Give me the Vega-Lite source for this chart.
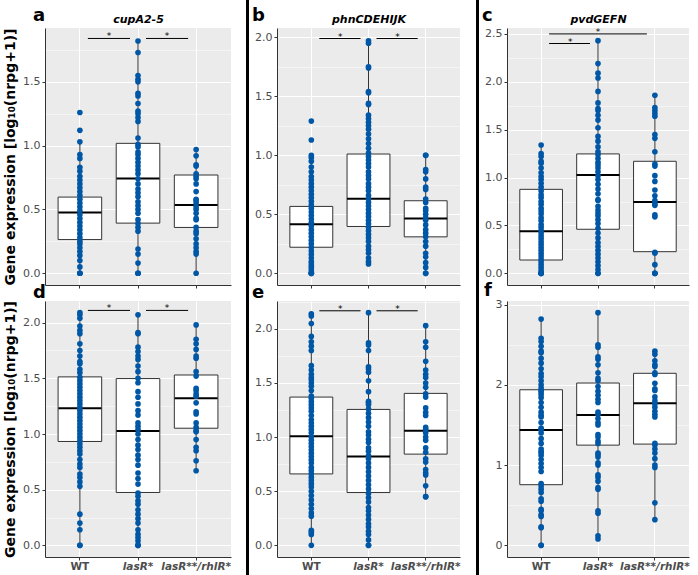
{
"$schema":"https://vega.github.io/schema/vega-lite/v6.json",
"padding":{"left":3,"top":0,"right":0,"bottom":0},
"autosize":{"type":"pad"},
"spacing":13,
"config":{"font":"DejaVu Sans","view":{"fill":"#EBEBEB","stroke":null},"axis":{"labelFont":"DejaVu Sans","labelFontSize":11,"labelColor":"#4D4D4D","tickColor":"#333333","tickSize":3,"domainColor":"#333333","domainWidth":1,"labelPadding":2,"titleFont":"DejaVu Sans","labelOverlap":false}},
"datasets":{
"box":[
{"p":"a","g":"W","lo":0,"q1":0.264,"md":0.476,"q3":0.597,"hi":1.03},
{"p":"a","g":"L","lo":0,"q1":0.393,"md":0.743,"q3":1.018,"hi":1.82},
{"p":"a","g":"R","lo":0,"q1":0.359,"md":0.534,"q3":0.77,"hi":0.97},
{"p":"b","g":"W","lo":0,"q1":0.221,"md":0.416,"q3":0.567,"hi":1.0},
{"p":"b","g":"L","lo":0.08,"q1":0.397,"md":0.632,"q3":1.011,"hi":1.97},
{"p":"b","g":"R","lo":0,"q1":0.309,"md":0.465,"q3":0.615,"hi":1.0},
{"p":"c","g":"W","lo":0,"q1":0.139,"md":0.439,"q3":0.877,"hi":1.34},
{"p":"c","g":"L","lo":0,"q1":0.46,"md":1.027,"q3":1.247,"hi":2.43},
{"p":"c","g":"R","lo":0,"q1":0.226,"md":0.745,"q3":1.17,"hi":1.86},
{"p":"d","g":"W","lo":0,"q1":0.933,"md":1.232,"q3":1.513,"hi":2.08},
{"p":"d","g":"L","lo":0,"q1":0.475,"md":1.028,"q3":1.498,"hi":2.06},
{"p":"d","g":"R","lo":0.66,"q1":1.052,"md":1.321,"q3":1.53,"hi":1.97},
{"p":"e","g":"W","lo":0,"q1":0.66,"md":1.009,"q3":1.37,"hi":2.14},
{"p":"e","g":"L","lo":0,"q1":0.488,"md":0.821,"q3":1.256,"hi":2.15},
{"p":"e","g":"R","lo":0.45,"q1":0.843,"md":1.059,"q3":1.404,"hi":2.03},
{"p":"f","g":"W","lo":0,"q1":0.756,"md":1.438,"q3":1.939,"hi":2.82},
{"p":"f","g":"L","lo":0.08,"q1":1.249,"md":1.626,"q3":2.023,"hi":2.9},
{"p":"f","g":"R","lo":0.32,"q1":1.262,"md":1.772,"q3":2.144,"hi":2.41}
],
"sig":[
{"p":"a","from":"W","to":"L","y":1.84},{"p":"a","from":"L","to":"R","y":1.84},
{"p":"b","from":"W","to":"L","y":1.99},{"p":"b","from":"L","to":"R","y":1.99},
{"p":"c","from":"W","to":"L","y":2.4},{"p":"c","from":"W","to":"R","y":2.5},
{"p":"d","from":"W","to":"L","y":2.11},{"p":"d","from":"L","to":"R","y":2.11},
{"p":"e","from":"W","to":"L","y":2.167},{"p":"e","from":"L","to":"R","y":2.167}
],
"pts":[
{"p":"a","g":"W","v":0},{"p":"a","g":"W","v":0},{"p":"a","g":"W","v":0},{"p":"a","g":"W","v":0.05},{"p":"a","g":"W","v":0.1},{"p":"a","g":"W","v":0.14},{"p":"a","g":"W","v":0.17},{"p":"a","g":"W","v":0.2},{"p":"a","g":"W","v":0.23},{"p":"a","g":"W","v":0.25},{"p":"a","g":"W","v":0.28},{"p":"a","g":"W","v":0.31},{"p":"a","g":"W","v":0.34},{"p":"a","g":"W","v":0.37},{"p":"a","g":"W","v":0.4},{"p":"a","g":"W","v":0.43},{"p":"a","g":"W","v":0.46},{"p":"a","g":"W","v":0.49},{"p":"a","g":"W","v":0.52},{"p":"a","g":"W","v":0.55},{"p":"a","g":"W","v":0.58},{"p":"a","g":"W","v":0.61},{"p":"a","g":"W","v":0.64},{"p":"a","g":"W","v":0.67},{"p":"a","g":"W","v":0.7},{"p":"a","g":"W","v":0.73},{"p":"a","g":"W","v":0.76},{"p":"a","g":"W","v":0.8},{"p":"a","g":"W","v":0.83},{"p":"a","g":"W","v":0.9},{"p":"a","g":"W","v":0.93},{"p":"a","g":"W","v":1.03},{"p":"a","g":"W","v":1.12},{"p":"a","g":"W","v":1.26},
{"p":"a","g":"L","v":0},{"p":"a","g":"L","v":0},{"p":"a","g":"L","v":0},{"p":"a","g":"L","v":0.08},{"p":"a","g":"L","v":0.15},{"p":"a","g":"L","v":0.19},{"p":"a","g":"L","v":0.33},{"p":"a","g":"L","v":0.36},{"p":"a","g":"L","v":0.39},{"p":"a","g":"L","v":0.42},{"p":"a","g":"L","v":0.47},{"p":"a","g":"L","v":0.5},{"p":"a","g":"L","v":0.53},{"p":"a","g":"L","v":0.56},{"p":"a","g":"L","v":0.6},{"p":"a","g":"L","v":0.63},{"p":"a","g":"L","v":0.66},{"p":"a","g":"L","v":0.7},{"p":"a","g":"L","v":0.74},{"p":"a","g":"L","v":0.78},{"p":"a","g":"L","v":0.81},{"p":"a","g":"L","v":0.84},{"p":"a","g":"L","v":0.87},{"p":"a","g":"L","v":0.9},{"p":"a","g":"L","v":0.93},{"p":"a","g":"L","v":0.95},{"p":"a","g":"L","v":0.99},{"p":"a","g":"L","v":1.01},{"p":"a","g":"L","v":1.06},{"p":"a","g":"L","v":1.19},{"p":"a","g":"L","v":1.22},{"p":"a","g":"L","v":1.25},{"p":"a","g":"L","v":1.27},{"p":"a","g":"L","v":1.33},{"p":"a","g":"L","v":1.39},{"p":"a","g":"L","v":1.41},{"p":"a","g":"L","v":1.5},{"p":"a","g":"L","v":1.52},{"p":"a","g":"L","v":1.55},{"p":"a","g":"L","v":1.73},{"p":"a","g":"L","v":1.82},
{"p":"a","g":"R","v":0},{"p":"a","g":"R","v":0.15},{"p":"a","g":"R","v":0.17},{"p":"a","g":"R","v":0.2},{"p":"a","g":"R","v":0.23},{"p":"a","g":"R","v":0.27},{"p":"a","g":"R","v":0.31},{"p":"a","g":"R","v":0.33},{"p":"a","g":"R","v":0.36},{"p":"a","g":"R","v":0.42},{"p":"a","g":"R","v":0.43},{"p":"a","g":"R","v":0.47},{"p":"a","g":"R","v":0.5},{"p":"a","g":"R","v":0.52},{"p":"a","g":"R","v":0.55},{"p":"a","g":"R","v":0.57},{"p":"a","g":"R","v":0.58},{"p":"a","g":"R","v":0.64},{"p":"a","g":"R","v":0.7},{"p":"a","g":"R","v":0.74},{"p":"a","g":"R","v":0.76},{"p":"a","g":"R","v":0.78},{"p":"a","g":"R","v":0.84},{"p":"a","g":"R","v":0.85},{"p":"a","g":"R","v":0.92},{"p":"a","g":"R","v":0.97},
{"p":"b","g":"W","v":0},{"p":"b","g":"W","v":0},{"p":"b","g":"W","v":0},{"p":"b","g":"W","v":0.02},{"p":"b","g":"W","v":0.04},{"p":"b","g":"W","v":0.06},{"p":"b","g":"W","v":0.08},{"p":"b","g":"W","v":0.1},{"p":"b","g":"W","v":0.13},{"p":"b","g":"W","v":0.16},{"p":"b","g":"W","v":0.19},{"p":"b","g":"W","v":0.22},{"p":"b","g":"W","v":0.25},{"p":"b","g":"W","v":0.28},{"p":"b","g":"W","v":0.31},{"p":"b","g":"W","v":0.34},{"p":"b","g":"W","v":0.37},{"p":"b","g":"W","v":0.4},{"p":"b","g":"W","v":0.43},{"p":"b","g":"W","v":0.46},{"p":"b","g":"W","v":0.49},{"p":"b","g":"W","v":0.52},{"p":"b","g":"W","v":0.55},{"p":"b","g":"W","v":0.58},{"p":"b","g":"W","v":0.61},{"p":"b","g":"W","v":0.64},{"p":"b","g":"W","v":0.67},{"p":"b","g":"W","v":0.7},{"p":"b","g":"W","v":0.73},{"p":"b","g":"W","v":0.76},{"p":"b","g":"W","v":0.79},{"p":"b","g":"W","v":0.82},{"p":"b","g":"W","v":0.86},{"p":"b","g":"W","v":0.9},{"p":"b","g":"W","v":0.95},{"p":"b","g":"W","v":0.98},{"p":"b","g":"W","v":1.0},{"p":"b","g":"W","v":1.13},{"p":"b","g":"W","v":1.29},
{"p":"b","g":"L","v":0.08},{"p":"b","g":"L","v":0.1},{"p":"b","g":"L","v":0.13},{"p":"b","g":"L","v":0.17},{"p":"b","g":"L","v":0.2},{"p":"b","g":"L","v":0.23},{"p":"b","g":"L","v":0.27},{"p":"b","g":"L","v":0.3},{"p":"b","g":"L","v":0.33},{"p":"b","g":"L","v":0.36},{"p":"b","g":"L","v":0.39},{"p":"b","g":"L","v":0.42},{"p":"b","g":"L","v":0.45},{"p":"b","g":"L","v":0.48},{"p":"b","g":"L","v":0.51},{"p":"b","g":"L","v":0.54},{"p":"b","g":"L","v":0.57},{"p":"b","g":"L","v":0.6},{"p":"b","g":"L","v":0.63},{"p":"b","g":"L","v":0.66},{"p":"b","g":"L","v":0.7},{"p":"b","g":"L","v":0.73},{"p":"b","g":"L","v":0.76},{"p":"b","g":"L","v":0.8},{"p":"b","g":"L","v":0.83},{"p":"b","g":"L","v":0.86},{"p":"b","g":"L","v":0.9},{"p":"b","g":"L","v":0.93},{"p":"b","g":"L","v":0.96},{"p":"b","g":"L","v":0.99},{"p":"b","g":"L","v":1.02},{"p":"b","g":"L","v":1.06},{"p":"b","g":"L","v":1.1},{"p":"b","g":"L","v":1.14},{"p":"b","g":"L","v":1.18},{"p":"b","g":"L","v":1.22},{"p":"b","g":"L","v":1.25},{"p":"b","g":"L","v":1.28},{"p":"b","g":"L","v":1.31},{"p":"b","g":"L","v":1.34},{"p":"b","g":"L","v":1.43},{"p":"b","g":"L","v":1.44},{"p":"b","g":"L","v":1.53},{"p":"b","g":"L","v":1.54},{"p":"b","g":"L","v":1.74},{"p":"b","g":"L","v":1.75},{"p":"b","g":"L","v":1.95},{"p":"b","g":"L","v":1.97},
{"p":"b","g":"R","v":0},{"p":"b","g":"R","v":0},{"p":"b","g":"R","v":0.05},{"p":"b","g":"R","v":0.09},{"p":"b","g":"R","v":0.14},{"p":"b","g":"R","v":0.17},{"p":"b","g":"R","v":0.23},{"p":"b","g":"R","v":0.27},{"p":"b","g":"R","v":0.31},{"p":"b","g":"R","v":0.34},{"p":"b","g":"R","v":0.37},{"p":"b","g":"R","v":0.41},{"p":"b","g":"R","v":0.45},{"p":"b","g":"R","v":0.47},{"p":"b","g":"R","v":0.5},{"p":"b","g":"R","v":0.53},{"p":"b","g":"R","v":0.55},{"p":"b","g":"R","v":0.6},{"p":"b","g":"R","v":0.63},{"p":"b","g":"R","v":0.71},{"p":"b","g":"R","v":0.73},{"p":"b","g":"R","v":0.8},{"p":"b","g":"R","v":0.86},{"p":"b","g":"R","v":0.88},{"p":"b","g":"R","v":1.0},{"p":"b","g":"R","v":1.0},
{"p":"c","g":"W","v":0},{"p":"c","g":"W","v":0},{"p":"c","g":"W","v":0},{"p":"c","g":"W","v":0},{"p":"c","g":"W","v":0.03},{"p":"c","g":"W","v":0.06},{"p":"c","g":"W","v":0.09},{"p":"c","g":"W","v":0.12},{"p":"c","g":"W","v":0.15},{"p":"c","g":"W","v":0.18},{"p":"c","g":"W","v":0.21},{"p":"c","g":"W","v":0.24},{"p":"c","g":"W","v":0.27},{"p":"c","g":"W","v":0.3},{"p":"c","g":"W","v":0.33},{"p":"c","g":"W","v":0.36},{"p":"c","g":"W","v":0.39},{"p":"c","g":"W","v":0.42},{"p":"c","g":"W","v":0.45},{"p":"c","g":"W","v":0.48},{"p":"c","g":"W","v":0.51},{"p":"c","g":"W","v":0.55},{"p":"c","g":"W","v":0.58},{"p":"c","g":"W","v":0.62},{"p":"c","g":"W","v":0.65},{"p":"c","g":"W","v":0.68},{"p":"c","g":"W","v":0.72},{"p":"c","g":"W","v":0.75},{"p":"c","g":"W","v":0.79},{"p":"c","g":"W","v":0.82},{"p":"c","g":"W","v":0.86},{"p":"c","g":"W","v":0.9},{"p":"c","g":"W","v":0.94},{"p":"c","g":"W","v":0.98},{"p":"c","g":"W","v":1.01},{"p":"c","g":"W","v":1.05},{"p":"c","g":"W","v":1.1},{"p":"c","g":"W","v":1.15},{"p":"c","g":"W","v":1.17},{"p":"c","g":"W","v":1.22},{"p":"c","g":"W","v":1.25},{"p":"c","g":"W","v":1.34},
{"p":"c","g":"L","v":0},{"p":"c","g":"L","v":0},{"p":"c","g":"L","v":0.04},{"p":"c","g":"L","v":0.08},{"p":"c","g":"L","v":0.12},{"p":"c","g":"L","v":0.16},{"p":"c","g":"L","v":0.2},{"p":"c","g":"L","v":0.24},{"p":"c","g":"L","v":0.28},{"p":"c","g":"L","v":0.32},{"p":"c","g":"L","v":0.37},{"p":"c","g":"L","v":0.42},{"p":"c","g":"L","v":0.47},{"p":"c","g":"L","v":0.52},{"p":"c","g":"L","v":0.56},{"p":"c","g":"L","v":0.6},{"p":"c","g":"L","v":0.63},{"p":"c","g":"L","v":0.66},{"p":"c","g":"L","v":0.7},{"p":"c","g":"L","v":0.76},{"p":"c","g":"L","v":0.77},{"p":"c","g":"L","v":0.83},{"p":"c","g":"L","v":0.88},{"p":"c","g":"L","v":0.93},{"p":"c","g":"L","v":0.98},{"p":"c","g":"L","v":1.02},{"p":"c","g":"L","v":1.06},{"p":"c","g":"L","v":1.1},{"p":"c","g":"L","v":1.13},{"p":"c","g":"L","v":1.16},{"p":"c","g":"L","v":1.2},{"p":"c","g":"L","v":1.24},{"p":"c","g":"L","v":1.27},{"p":"c","g":"L","v":1.32},{"p":"c","g":"L","v":1.38},{"p":"c","g":"L","v":1.43},{"p":"c","g":"L","v":1.52},{"p":"c","g":"L","v":1.6},{"p":"c","g":"L","v":1.65},{"p":"c","g":"L","v":1.7},{"p":"c","g":"L","v":1.72},{"p":"c","g":"L","v":1.78},{"p":"c","g":"L","v":1.9},{"p":"c","g":"L","v":2.04},{"p":"c","g":"L","v":2.09},{"p":"c","g":"L","v":2.19},{"p":"c","g":"L","v":2.43},
{"p":"c","g":"R","v":0},{"p":"c","g":"R","v":0},{"p":"c","g":"R","v":0},{"p":"c","g":"R","v":0.09},{"p":"c","g":"R","v":0.21},{"p":"c","g":"R","v":0.22},{"p":"c","g":"R","v":0.59},{"p":"c","g":"R","v":0.61},{"p":"c","g":"R","v":0.71},{"p":"c","g":"R","v":0.73},{"p":"c","g":"R","v":0.76},{"p":"c","g":"R","v":0.81},{"p":"c","g":"R","v":0.87},{"p":"c","g":"R","v":0.96},{"p":"c","g":"R","v":1.02},{"p":"c","g":"R","v":1.12},{"p":"c","g":"R","v":1.14},{"p":"c","g":"R","v":1.27},{"p":"c","g":"R","v":1.41},{"p":"c","g":"R","v":1.45},{"p":"c","g":"R","v":1.64},{"p":"c","g":"R","v":1.67},{"p":"c","g":"R","v":1.7},{"p":"c","g":"R","v":1.73},{"p":"c","g":"R","v":1.86},
{"p":"d","g":"W","v":0},{"p":"d","g":"W","v":0},{"p":"d","g":"W","v":0.14},{"p":"d","g":"W","v":0.2},{"p":"d","g":"W","v":0.28},{"p":"d","g":"W","v":0.53},{"p":"d","g":"W","v":0.57},{"p":"d","g":"W","v":0.61},{"p":"d","g":"W","v":0.64},{"p":"d","g":"W","v":0.7},{"p":"d","g":"W","v":0.73},{"p":"d","g":"W","v":0.77},{"p":"d","g":"W","v":0.82},{"p":"d","g":"W","v":0.85},{"p":"d","g":"W","v":0.88},{"p":"d","g":"W","v":0.91},{"p":"d","g":"W","v":0.94},{"p":"d","g":"W","v":0.97},{"p":"d","g":"W","v":1.0},{"p":"d","g":"W","v":1.03},{"p":"d","g":"W","v":1.06},{"p":"d","g":"W","v":1.09},{"p":"d","g":"W","v":1.12},{"p":"d","g":"W","v":1.15},{"p":"d","g":"W","v":1.18},{"p":"d","g":"W","v":1.21},{"p":"d","g":"W","v":1.24},{"p":"d","g":"W","v":1.27},{"p":"d","g":"W","v":1.3},{"p":"d","g":"W","v":1.33},{"p":"d","g":"W","v":1.36},{"p":"d","g":"W","v":1.39},{"p":"d","g":"W","v":1.42},{"p":"d","g":"W","v":1.45},{"p":"d","g":"W","v":1.48},{"p":"d","g":"W","v":1.51},{"p":"d","g":"W","v":1.55},{"p":"d","g":"W","v":1.58},{"p":"d","g":"W","v":1.63},{"p":"d","g":"W","v":1.65},{"p":"d","g":"W","v":1.7},{"p":"d","g":"W","v":1.75},{"p":"d","g":"W","v":1.81},{"p":"d","g":"W","v":1.9},{"p":"d","g":"W","v":1.93},{"p":"d","g":"W","v":1.97},{"p":"d","g":"W","v":2.04},{"p":"d","g":"W","v":2.07},{"p":"d","g":"W","v":2.09},
{"p":"d","g":"L","v":0},{"p":"d","g":"L","v":0},{"p":"d","g":"L","v":0},{"p":"d","g":"L","v":0.04},{"p":"d","g":"L","v":0.07},{"p":"d","g":"L","v":0.1},{"p":"d","g":"L","v":0.14},{"p":"d","g":"L","v":0.2},{"p":"d","g":"L","v":0.24},{"p":"d","g":"L","v":0.28},{"p":"d","g":"L","v":0.32},{"p":"d","g":"L","v":0.37},{"p":"d","g":"L","v":0.4},{"p":"d","g":"L","v":0.44},{"p":"d","g":"L","v":0.47},{"p":"d","g":"L","v":0.55},{"p":"d","g":"L","v":0.6},{"p":"d","g":"L","v":0.65},{"p":"d","g":"L","v":0.72},{"p":"d","g":"L","v":0.77},{"p":"d","g":"L","v":0.81},{"p":"d","g":"L","v":0.86},{"p":"d","g":"L","v":0.9},{"p":"d","g":"L","v":0.95},{"p":"d","g":"L","v":1.0},{"p":"d","g":"L","v":1.04},{"p":"d","g":"L","v":1.07},{"p":"d","g":"L","v":1.1},{"p":"d","g":"L","v":1.17},{"p":"d","g":"L","v":1.21},{"p":"d","g":"L","v":1.27},{"p":"d","g":"L","v":1.33},{"p":"d","g":"L","v":1.38},{"p":"d","g":"L","v":1.46},{"p":"d","g":"L","v":1.5},{"p":"d","g":"L","v":1.56},{"p":"d","g":"L","v":1.61},{"p":"d","g":"L","v":1.67},{"p":"d","g":"L","v":1.7},{"p":"d","g":"L","v":1.74},{"p":"d","g":"L","v":1.78},{"p":"d","g":"L","v":1.9},{"p":"d","g":"L","v":1.91},{"p":"d","g":"L","v":2.07},
{"p":"d","g":"R","v":0.67},{"p":"d","g":"R","v":0.76},{"p":"d","g":"R","v":0.85},{"p":"d","g":"R","v":0.88},{"p":"d","g":"R","v":0.95},{"p":"d","g":"R","v":1.02},{"p":"d","g":"R","v":1.03},{"p":"d","g":"R","v":1.06},{"p":"d","g":"R","v":1.1},{"p":"d","g":"R","v":1.18},{"p":"d","g":"R","v":1.2},{"p":"d","g":"R","v":1.28},{"p":"d","g":"R","v":1.34},{"p":"d","g":"R","v":1.36},{"p":"d","g":"R","v":1.39},{"p":"d","g":"R","v":1.41},{"p":"d","g":"R","v":1.52},{"p":"d","g":"R","v":1.56},{"p":"d","g":"R","v":1.68},{"p":"d","g":"R","v":1.7},{"p":"d","g":"R","v":1.76},{"p":"d","g":"R","v":1.81},{"p":"d","g":"R","v":1.85},{"p":"d","g":"R","v":1.98},
{"p":"e","g":"W","v":0},{"p":"e","g":"W","v":0.1},{"p":"e","g":"W","v":0.12},{"p":"e","g":"W","v":0.14},{"p":"e","g":"W","v":0.27},{"p":"e","g":"W","v":0.3},{"p":"e","g":"W","v":0.34},{"p":"e","g":"W","v":0.38},{"p":"e","g":"W","v":0.42},{"p":"e","g":"W","v":0.46},{"p":"e","g":"W","v":0.5},{"p":"e","g":"W","v":0.54},{"p":"e","g":"W","v":0.57},{"p":"e","g":"W","v":0.6},{"p":"e","g":"W","v":0.63},{"p":"e","g":"W","v":0.66},{"p":"e","g":"W","v":0.69},{"p":"e","g":"W","v":0.72},{"p":"e","g":"W","v":0.76},{"p":"e","g":"W","v":0.79},{"p":"e","g":"W","v":0.82},{"p":"e","g":"W","v":0.85},{"p":"e","g":"W","v":0.88},{"p":"e","g":"W","v":0.91},{"p":"e","g":"W","v":0.94},{"p":"e","g":"W","v":0.97},{"p":"e","g":"W","v":1.0},{"p":"e","g":"W","v":1.04},{"p":"e","g":"W","v":1.07},{"p":"e","g":"W","v":1.1},{"p":"e","g":"W","v":1.13},{"p":"e","g":"W","v":1.16},{"p":"e","g":"W","v":1.2},{"p":"e","g":"W","v":1.24},{"p":"e","g":"W","v":1.27},{"p":"e","g":"W","v":1.3},{"p":"e","g":"W","v":1.33},{"p":"e","g":"W","v":1.36},{"p":"e","g":"W","v":1.38},{"p":"e","g":"W","v":1.43},{"p":"e","g":"W","v":1.47},{"p":"e","g":"W","v":1.5},{"p":"e","g":"W","v":1.53},{"p":"e","g":"W","v":1.55},{"p":"e","g":"W","v":1.58},{"p":"e","g":"W","v":1.62},{"p":"e","g":"W","v":1.66},{"p":"e","g":"W","v":1.8},{"p":"e","g":"W","v":1.84},{"p":"e","g":"W","v":1.88},{"p":"e","g":"W","v":1.93},{"p":"e","g":"W","v":2.05},{"p":"e","g":"W","v":2.12},{"p":"e","g":"W","v":2.14},
{"p":"e","g":"L","v":0},{"p":"e","g":"L","v":0},{"p":"e","g":"L","v":0.05},{"p":"e","g":"L","v":0.1},{"p":"e","g":"L","v":0.13},{"p":"e","g":"L","v":0.17},{"p":"e","g":"L","v":0.2},{"p":"e","g":"L","v":0.24},{"p":"e","g":"L","v":0.28},{"p":"e","g":"L","v":0.32},{"p":"e","g":"L","v":0.35},{"p":"e","g":"L","v":0.4},{"p":"e","g":"L","v":0.44},{"p":"e","g":"L","v":0.48},{"p":"e","g":"L","v":0.52},{"p":"e","g":"L","v":0.56},{"p":"e","g":"L","v":0.6},{"p":"e","g":"L","v":0.64},{"p":"e","g":"L","v":0.68},{"p":"e","g":"L","v":0.72},{"p":"e","g":"L","v":0.76},{"p":"e","g":"L","v":0.8},{"p":"e","g":"L","v":0.83},{"p":"e","g":"L","v":0.87},{"p":"e","g":"L","v":0.9},{"p":"e","g":"L","v":0.95},{"p":"e","g":"L","v":0.98},{"p":"e","g":"L","v":1.02},{"p":"e","g":"L","v":1.05},{"p":"e","g":"L","v":1.1},{"p":"e","g":"L","v":1.14},{"p":"e","g":"L","v":1.18},{"p":"e","g":"L","v":1.22},{"p":"e","g":"L","v":1.26},{"p":"e","g":"L","v":1.3},{"p":"e","g":"L","v":1.32},{"p":"e","g":"L","v":1.33},{"p":"e","g":"L","v":1.42},{"p":"e","g":"L","v":1.52},{"p":"e","g":"L","v":1.6},{"p":"e","g":"L","v":1.63},{"p":"e","g":"L","v":1.65},{"p":"e","g":"L","v":1.8},{"p":"e","g":"L","v":1.85},{"p":"e","g":"L","v":1.87},{"p":"e","g":"L","v":2.15},
{"p":"e","g":"R","v":0.45},{"p":"e","g":"R","v":0.45},{"p":"e","g":"R","v":0.55},{"p":"e","g":"R","v":0.65},{"p":"e","g":"R","v":0.67},{"p":"e","g":"R","v":0.7},{"p":"e","g":"R","v":0.77},{"p":"e","g":"R","v":0.8},{"p":"e","g":"R","v":0.86},{"p":"e","g":"R","v":0.9},{"p":"e","g":"R","v":0.97},{"p":"e","g":"R","v":1.0},{"p":"e","g":"R","v":1.04},{"p":"e","g":"R","v":1.07},{"p":"e","g":"R","v":1.09},{"p":"e","g":"R","v":1.2},{"p":"e","g":"R","v":1.23},{"p":"e","g":"R","v":1.27},{"p":"e","g":"R","v":1.37},{"p":"e","g":"R","v":1.4},{"p":"e","g":"R","v":1.46},{"p":"e","g":"R","v":1.5},{"p":"e","g":"R","v":1.55},{"p":"e","g":"R","v":1.58},{"p":"e","g":"R","v":1.62},{"p":"e","g":"R","v":1.7},{"p":"e","g":"R","v":1.83},{"p":"e","g":"R","v":1.88},{"p":"e","g":"R","v":2.03},
{"p":"f","g":"W","v":0},{"p":"f","g":"W","v":0},{"p":"f","g":"W","v":0.22},{"p":"f","g":"W","v":0.23},{"p":"f","g":"W","v":0.36},{"p":"f","g":"W","v":0.38},{"p":"f","g":"W","v":0.43},{"p":"f","g":"W","v":0.45},{"p":"f","g":"W","v":0.55},{"p":"f","g":"W","v":0.58},{"p":"f","g":"W","v":0.66},{"p":"f","g":"W","v":0.7},{"p":"f","g":"W","v":0.74},{"p":"f","g":"W","v":0.77},{"p":"f","g":"W","v":0.92},{"p":"f","g":"W","v":0.97},{"p":"f","g":"W","v":1.02},{"p":"f","g":"W","v":1.07},{"p":"f","g":"W","v":1.12},{"p":"f","g":"W","v":1.15},{"p":"f","g":"W","v":1.17},{"p":"f","g":"W","v":1.2},{"p":"f","g":"W","v":1.27},{"p":"f","g":"W","v":1.33},{"p":"f","g":"W","v":1.4},{"p":"f","g":"W","v":1.44},{"p":"f","g":"W","v":1.46},{"p":"f","g":"W","v":1.53},{"p":"f","g":"W","v":1.6},{"p":"f","g":"W","v":1.62},{"p":"f","g":"W","v":1.66},{"p":"f","g":"W","v":1.72},{"p":"f","g":"W","v":1.78},{"p":"f","g":"W","v":1.84},{"p":"f","g":"W","v":1.88},{"p":"f","g":"W","v":1.91},{"p":"f","g":"W","v":1.93},{"p":"f","g":"W","v":1.96},{"p":"f","g":"W","v":2.0},{"p":"f","g":"W","v":2.05},{"p":"f","g":"W","v":2.1},{"p":"f","g":"W","v":2.14},{"p":"f","g":"W","v":2.2},{"p":"f","g":"W","v":2.27},{"p":"f","g":"W","v":2.33},{"p":"f","g":"W","v":2.4},{"p":"f","g":"W","v":2.42},{"p":"f","g":"W","v":2.48},{"p":"f","g":"W","v":2.54},{"p":"f","g":"W","v":2.58},{"p":"f","g":"W","v":2.82},
{"p":"f","g":"L","v":0.08},{"p":"f","g":"L","v":0.12},{"p":"f","g":"L","v":0.4},{"p":"f","g":"L","v":0.43},{"p":"f","g":"L","v":0.7},{"p":"f","g":"L","v":0.72},{"p":"f","g":"L","v":0.8},{"p":"f","g":"L","v":0.85},{"p":"f","g":"L","v":0.88},{"p":"f","g":"L","v":1.0},{"p":"f","g":"L","v":1.03},{"p":"f","g":"L","v":1.1},{"p":"f","g":"L","v":1.13},{"p":"f","g":"L","v":1.15},{"p":"f","g":"L","v":1.27},{"p":"f","g":"L","v":1.3},{"p":"f","g":"L","v":1.35},{"p":"f","g":"L","v":1.38},{"p":"f","g":"L","v":1.5},{"p":"f","g":"L","v":1.53},{"p":"f","g":"L","v":1.58},{"p":"f","g":"L","v":1.63},{"p":"f","g":"L","v":1.66},{"p":"f","g":"L","v":1.78},{"p":"f","g":"L","v":1.82},{"p":"f","g":"L","v":1.87},{"p":"f","g":"L","v":1.92},{"p":"f","g":"L","v":1.98},{"p":"f","g":"L","v":2.05},{"p":"f","g":"L","v":2.08},{"p":"f","g":"L","v":2.15},{"p":"f","g":"L","v":2.25},{"p":"f","g":"L","v":2.32},{"p":"f","g":"L","v":2.35},{"p":"f","g":"L","v":2.47},{"p":"f","g":"L","v":2.5},{"p":"f","g":"L","v":2.9},
{"p":"f","g":"R","v":0.32},{"p":"f","g":"R","v":0.53},{"p":"f","g":"R","v":0.97},{"p":"f","g":"R","v":1.0},{"p":"f","g":"R","v":1.08},{"p":"f","g":"R","v":1.15},{"p":"f","g":"R","v":1.2},{"p":"f","g":"R","v":1.25},{"p":"f","g":"R","v":1.27},{"p":"f","g":"R","v":1.6},{"p":"f","g":"R","v":1.63},{"p":"f","g":"R","v":1.67},{"p":"f","g":"R","v":1.72},{"p":"f","g":"R","v":1.76},{"p":"f","g":"R","v":1.8},{"p":"f","g":"R","v":1.85},{"p":"f","g":"R","v":1.93},{"p":"f","g":"R","v":1.95},{"p":"f","g":"R","v":2.02},{"p":"f","g":"R","v":2.13},{"p":"f","g":"R","v":2.15},{"p":"f","g":"R","v":2.23},{"p":"f","g":"R","v":2.25},{"p":"f","g":"R","v":2.3},{"p":"f","g":"R","v":2.38},{"p":"f","g":"R","v":2.42}
]},
"hconcat":[
{"vconcat":[
{"width":186,"height":12,"data":{"values":[{}]},"mark":{"type":"point","opacity":0},"encoding":{},"view":{"fill":"white","stroke":null}},
{"width":186,"height":257,
"title":{"text":"a","anchor":"start","frame":"group","dx":-12,"dy":26,"offset":0,"fontSize":18,"fontWeight":"bold","color":"#000","baseline":"alphabetic","font":"DejaVu Sans"},
"resolve":{"axis":{"x":"independent","y":"independent"}},
"layer":[
{"data":{"name":"box"},"transform":[{"filter":"datum.p=='a'"}],"mark":{"type":"tick","opacity":0},
"encoding":{"x":{"field":"g","type":"nominal","scale":{"domain":["W","L","R"],"paddingInner":0.25,"paddingOuter":0.225},"axis":{"orient":"top","title":"cupA2-5","labels":false,"ticks":false,"domain":false,"grid":false,"titleFontStyle":"italic","titleFontWeight":"bold","titleFontSize":11,"titleColor":"#000","titlePadding":4}},
"y":{"field":"md","type":"quantitative","scale":{"domain":[-0.092,1.922],"nice":false,"zero":false},"axis":{"orient":"right","values":[0.25,0.75,1.25,1.75],"grid":true,"gridColor":"#fff","gridWidth":0.5,"labels":false,"ticks":false,"domain":false,"title":null}}}},
{"data":{"name":"box"},"transform":[{"filter":"datum.p=='a'"}],"mark":{"type":"rule","color":"#333","strokeWidth":1},
"encoding":{"x":{"field":"g","type":"nominal","scale":{"domain":["W","L","R"],"paddingInner":0.25,"paddingOuter":0.225},"axis":{"orient":"bottom","title":null,"labels":false,"grid":true,"gridColor":"#fff","gridWidth":1}},
"y":{"field":"lo","type":"quantitative","scale":{"domain":[-0.092,1.922],"nice":false,"zero":false},"axis":{"orient":"left","values":[0,0.5,1,1.5],"format":".1f","grid":true,"gridColor":"#fff","gridWidth":1,"title":"Gene expression [log₁₀(nrpg+1)]","titleFontSize":14,"titleFontWeight":"bold","titleColor":"#000","titlePadding":5}},
"y2":{"field":"hi"}}},
{"data":{"name":"box"},"transform":[{"filter":"datum.p=='a'"}],"mark":{"type":"bar","fill":"#fff","stroke":"#333","strokeWidth":1},
"encoding":{"x":{"field":"g","type":"nominal","scale":{"domain":["W","L","R"],"paddingInner":0.25,"paddingOuter":0.225},"axis":null},
"y":{"field":"q1","type":"quantitative","scale":{"domain":[-0.092,1.922],"nice":false,"zero":false},"axis":null},"y2":{"field":"q3"}}},
{"data":{"name":"box"},"transform":[{"filter":"datum.p=='a'"}],"mark":{"type":"tick","orient":"horizontal","size":43,"thickness":2,"color":"#000","opacity":1},
"encoding":{"x":{"field":"g","type":"nominal","scale":{"domain":["W","L","R"],"paddingInner":0.25,"paddingOuter":0.225},"axis":null},
"y":{"field":"md","type":"quantitative","scale":{"domain":[-0.092,1.922],"nice":false,"zero":false},"axis":null}}},
{"data":{"name":"pts"},"transform":[{"filter":"datum.p=='a'"}],"mark":{"type":"circle","size":32,"opacity":1,"color":"#0057A6"},
"encoding":{"x":{"field":"g","type":"nominal","scale":{"domain":["W","L","R"],"paddingInner":0.25,"paddingOuter":0.225},"axis":null},
"y":{"field":"v","type":"quantitative","scale":{"domain":[-0.092,1.922],"nice":false,"zero":false},"axis":null}}},
{"data":{"name":"sig"},"transform":[{"filter":"datum.p=='a'"}],"mark":{"type":"rule","xOffset":8,"x2Offset":-8,"color":"#000","strokeWidth":1},
"encoding":{"x":{"field":"from","type":"nominal","scale":{"domain":["W","L","R"],"paddingInner":0.25,"paddingOuter":0.225},"axis":null},"x2":{"field":"to"},
"y":{"field":"y","type":"quantitative","scale":{"domain":[-0.092,1.922],"nice":false,"zero":false},"axis":null}}},
{"data":{"name":"sig"},"transform":[{"filter":"datum.p=='a'"}],"mark":{"type":"text","text":"*","dx":29,"dy":1,"fontSize":9,"baseline":"alphabetic","color":"#000"},
"encoding":{"x":{"field":"from","type":"nominal","scale":{"domain":["W","L","R"],"paddingInner":0.25,"paddingOuter":0.225},"axis":null},
"y":{"field":"y","type":"quantitative","scale":{"domain":[-0.092,1.922],"nice":false,"zero":false},"axis":null}}}
]},
{"width":186,"height":256,
"title":{"text":"d","anchor":"start","frame":"group","dx":-12,"dy":15,"offset":0,"fontSize":18,"fontWeight":"bold","color":"#000","baseline":"alphabetic","font":"DejaVu Sans"},
"resolve":{"axis":{"x":"independent","y":"independent"}},
"layer":[
{"data":{"name":"box"},"transform":[{"filter":"datum.p=='d'"}],"mark":{"type":"tick","opacity":0},
"encoding":{"x":{"field":"g","type":"nominal","scale":{"domain":["W","L","R"],"paddingInner":0.25,"paddingOuter":0.225},"axis":null},
"y":{"field":"md","type":"quantitative","scale":{"domain":[-0.1045,2.1945],"nice":false,"zero":false},"axis":{"orient":"right","values":[0.25,0.75,1.25,1.75],"grid":true,"gridColor":"#fff","gridWidth":0.5,"labels":false,"ticks":false,"domain":false,"title":null}}}},
{"data":{"name":"box"},"transform":[{"filter":"datum.p=='d'"}],"mark":{"type":"rule","color":"#333","strokeWidth":1},
"encoding":{"x":{"field":"g","type":"nominal","scale":{"domain":["W","L","R"],"paddingInner":0.25,"paddingOuter":0.225},"axis":{"orient":"bottom","title":null,"grid":true,"gridColor":"#fff","gridWidth":1,"labelAngle":0,"labelPadding":1,"labelExpr":"datum.value=='W'?'WT':datum.value=='L'?'lasR*':'lasR**/rhlR*'","labelFontWeight":"bold","labelFontSize":10.5,"labelFontStyle":{"condition":{"test":"datum.value=='W'","value":"normal"},"value":"italic"}}},
"y":{"field":"lo","type":"quantitative","scale":{"domain":[-0.1045,2.1945],"nice":false,"zero":false},"axis":{"orient":"left","values":[0,0.5,1,1.5,2],"format":".1f","grid":true,"gridColor":"#fff","gridWidth":1,"title":"Gene expression [log₁₀(nrpg+1)]","titleFontSize":14,"titleFontWeight":"bold","titleColor":"#000","titlePadding":5}},
"y2":{"field":"hi"}}},
{"data":{"name":"box"},"transform":[{"filter":"datum.p=='d'"}],"mark":{"type":"bar","fill":"#fff","stroke":"#333","strokeWidth":1},
"encoding":{"x":{"field":"g","type":"nominal","scale":{"domain":["W","L","R"],"paddingInner":0.25,"paddingOuter":0.225},"axis":null},
"y":{"field":"q1","type":"quantitative","scale":{"domain":[-0.1045,2.1945],"nice":false,"zero":false},"axis":null},"y2":{"field":"q3"}}},
{"data":{"name":"box"},"transform":[{"filter":"datum.p=='d'"}],"mark":{"type":"tick","orient":"horizontal","size":43,"thickness":2,"color":"#000","opacity":1},
"encoding":{"x":{"field":"g","type":"nominal","scale":{"domain":["W","L","R"],"paddingInner":0.25,"paddingOuter":0.225},"axis":null},
"y":{"field":"md","type":"quantitative","scale":{"domain":[-0.1045,2.1945],"nice":false,"zero":false},"axis":null}}},
{"data":{"name":"pts"},"transform":[{"filter":"datum.p=='d'"}],"mark":{"type":"circle","size":32,"opacity":1,"color":"#0057A6"},
"encoding":{"x":{"field":"g","type":"nominal","scale":{"domain":["W","L","R"],"paddingInner":0.25,"paddingOuter":0.225},"axis":null},
"y":{"field":"v","type":"quantitative","scale":{"domain":[-0.1045,2.1945],"nice":false,"zero":false},"axis":null}}},
{"data":{"name":"sig"},"transform":[{"filter":"datum.p=='d'"}],"mark":{"type":"rule","xOffset":8,"x2Offset":-8,"color":"#000","strokeWidth":1},
"encoding":{"x":{"field":"from","type":"nominal","scale":{"domain":["W","L","R"],"paddingInner":0.25,"paddingOuter":0.225},"axis":null},"x2":{"field":"to"},
"y":{"field":"y","type":"quantitative","scale":{"domain":[-0.1045,2.1945],"nice":false,"zero":false},"axis":null}}},
{"data":{"name":"sig"},"transform":[{"filter":"datum.p=='d'"}],"mark":{"type":"text","text":"*","dx":29,"dy":1,"fontSize":9,"baseline":"alphabetic","color":"#000"},
"encoding":{"x":{"field":"from","type":"nominal","scale":{"domain":["W","L","R"],"paddingInner":0.25,"paddingOuter":0.225},"axis":null},
"y":{"field":"y","type":"quantitative","scale":{"domain":[-0.1045,2.1945],"nice":false,"zero":false},"axis":null}}}
]}
],"spacing":16,"bounds":"flush"},
{"hconcat":[
{"width":3,"height":575,"data":{"values":[{}]},"mark":{"type":"point","opacity":0},"encoding":{},"view":{"fill":"#000","stroke":null}},
{"vconcat":[
{"width":183,"height":12,"data":{"values":[{}]},"mark":{"type":"point","opacity":0},"encoding":{},"view":{"fill":"white","stroke":null}},
{"width":183,"height":257,
"title":{"text":"b","anchor":"start","frame":"group","dx":-25,"dy":26,"offset":0,"fontSize":18,"fontWeight":"bold","color":"#000","baseline":"alphabetic","font":"DejaVu Sans"},
"resolve":{"axis":{"x":"independent","y":"independent"}},
"layer":[
{"data":{"name":"box"},"transform":[{"filter":"datum.p=='b'"}],"mark":{"type":"tick","opacity":0},
"encoding":{"x":{"field":"g","type":"nominal","scale":{"domain":["W","L","R"],"paddingInner":0.25,"paddingOuter":0.225},"axis":{"orient":"top","title":"phnCDEHIJK","labels":false,"ticks":false,"domain":false,"grid":false,"titleFontStyle":"italic","titleFontWeight":"bold","titleFontSize":11,"titleColor":"#000","titlePadding":4}},
"y":{"field":"md","type":"quantitative","scale":{"domain":[-0.099,2.079],"nice":false,"zero":false},"axis":{"orient":"right","values":[0.25,0.75,1.25,1.75],"grid":true,"gridColor":"#fff","gridWidth":0.5,"labels":false,"ticks":false,"domain":false,"title":null}}}},
{"data":{"name":"box"},"transform":[{"filter":"datum.p=='b'"}],"mark":{"type":"rule","color":"#333","strokeWidth":1},
"encoding":{"x":{"field":"g","type":"nominal","scale":{"domain":["W","L","R"],"paddingInner":0.25,"paddingOuter":0.225},"axis":{"orient":"bottom","title":null,"labels":false,"grid":true,"gridColor":"#fff","gridWidth":1}},
"y":{"field":"lo","type":"quantitative","scale":{"domain":[-0.099,2.079],"nice":false,"zero":false},"axis":{"orient":"left","values":[0,0.5,1,1.5,2],"format":".1f","grid":true,"gridColor":"#fff","gridWidth":1,"title":null}},
"y2":{"field":"hi"}}},
{"data":{"name":"box"},"transform":[{"filter":"datum.p=='b'"}],"mark":{"type":"bar","fill":"#fff","stroke":"#333","strokeWidth":1},
"encoding":{"x":{"field":"g","type":"nominal","scale":{"domain":["W","L","R"],"paddingInner":0.25,"paddingOuter":0.225},"axis":null},
"y":{"field":"q1","type":"quantitative","scale":{"domain":[-0.099,2.079],"nice":false,"zero":false},"axis":null},"y2":{"field":"q3"}}},
{"data":{"name":"box"},"transform":[{"filter":"datum.p=='b'"}],"mark":{"type":"tick","orient":"horizontal","size":43,"thickness":2,"color":"#000","opacity":1},
"encoding":{"x":{"field":"g","type":"nominal","scale":{"domain":["W","L","R"],"paddingInner":0.25,"paddingOuter":0.225},"axis":null},
"y":{"field":"md","type":"quantitative","scale":{"domain":[-0.099,2.079],"nice":false,"zero":false},"axis":null}}},
{"data":{"name":"pts"},"transform":[{"filter":"datum.p=='b'"}],"mark":{"type":"circle","size":32,"opacity":1,"color":"#0057A6"},
"encoding":{"x":{"field":"g","type":"nominal","scale":{"domain":["W","L","R"],"paddingInner":0.25,"paddingOuter":0.225},"axis":null},
"y":{"field":"v","type":"quantitative","scale":{"domain":[-0.099,2.079],"nice":false,"zero":false},"axis":null}}},
{"data":{"name":"sig"},"transform":[{"filter":"datum.p=='b'"}],"mark":{"type":"rule","xOffset":8,"x2Offset":-8,"color":"#000","strokeWidth":1},
"encoding":{"x":{"field":"from","type":"nominal","scale":{"domain":["W","L","R"],"paddingInner":0.25,"paddingOuter":0.225},"axis":null},"x2":{"field":"to"},
"y":{"field":"y","type":"quantitative","scale":{"domain":[-0.099,2.079],"nice":false,"zero":false},"axis":null}}},
{"data":{"name":"sig"},"transform":[{"filter":"datum.p=='b'"}],"mark":{"type":"text","text":"*","dx":29,"dy":1,"fontSize":9,"baseline":"alphabetic","color":"#000"},
"encoding":{"x":{"field":"from","type":"nominal","scale":{"domain":["W","L","R"],"paddingInner":0.25,"paddingOuter":0.225},"axis":null},
"y":{"field":"y","type":"quantitative","scale":{"domain":[-0.099,2.079],"nice":false,"zero":false},"axis":null}}}
]},
{"width":183,"height":256,
"title":{"text":"e","anchor":"start","frame":"group","dx":-25,"dy":15,"offset":0,"fontSize":18,"fontWeight":"bold","color":"#000","baseline":"alphabetic","font":"DejaVu Sans"},
"resolve":{"axis":{"x":"independent","y":"independent"}},
"layer":[
{"data":{"name":"box"},"transform":[{"filter":"datum.p=='e'"}],"mark":{"type":"tick","opacity":0},
"encoding":{"x":{"field":"g","type":"nominal","scale":{"domain":["W","L","R"],"paddingInner":0.25,"paddingOuter":0.225},"axis":null},
"y":{"field":"md","type":"quantitative","scale":{"domain":[-0.1075,2.2575],"nice":false,"zero":false},"axis":{"orient":"right","values":[0.25,0.75,1.25,1.75,2.25],"grid":true,"gridColor":"#fff","gridWidth":0.5,"labels":false,"ticks":false,"domain":false,"title":null}}}},
{"data":{"name":"box"},"transform":[{"filter":"datum.p=='e'"}],"mark":{"type":"rule","color":"#333","strokeWidth":1},
"encoding":{"x":{"field":"g","type":"nominal","scale":{"domain":["W","L","R"],"paddingInner":0.25,"paddingOuter":0.225},"axis":{"orient":"bottom","title":null,"grid":true,"gridColor":"#fff","gridWidth":1,"labelAngle":0,"labelPadding":1,"labelExpr":"datum.value=='W'?'WT':datum.value=='L'?'lasR*':'lasR**/rhlR*'","labelFontWeight":"bold","labelFontSize":10.5,"labelFontStyle":{"condition":{"test":"datum.value=='W'","value":"normal"},"value":"italic"}}},
"y":{"field":"lo","type":"quantitative","scale":{"domain":[-0.1075,2.2575],"nice":false,"zero":false},"axis":{"orient":"left","values":[0,0.5,1,1.5,2],"format":".1f","grid":true,"gridColor":"#fff","gridWidth":1,"title":null}},
"y2":{"field":"hi"}}},
{"data":{"name":"box"},"transform":[{"filter":"datum.p=='e'"}],"mark":{"type":"bar","fill":"#fff","stroke":"#333","strokeWidth":1},
"encoding":{"x":{"field":"g","type":"nominal","scale":{"domain":["W","L","R"],"paddingInner":0.25,"paddingOuter":0.225},"axis":null},
"y":{"field":"q1","type":"quantitative","scale":{"domain":[-0.1075,2.2575],"nice":false,"zero":false},"axis":null},"y2":{"field":"q3"}}},
{"data":{"name":"box"},"transform":[{"filter":"datum.p=='e'"}],"mark":{"type":"tick","orient":"horizontal","size":43,"thickness":2,"color":"#000","opacity":1},
"encoding":{"x":{"field":"g","type":"nominal","scale":{"domain":["W","L","R"],"paddingInner":0.25,"paddingOuter":0.225},"axis":null},
"y":{"field":"md","type":"quantitative","scale":{"domain":[-0.1075,2.2575],"nice":false,"zero":false},"axis":null}}},
{"data":{"name":"pts"},"transform":[{"filter":"datum.p=='e'"}],"mark":{"type":"circle","size":32,"opacity":1,"color":"#0057A6"},
"encoding":{"x":{"field":"g","type":"nominal","scale":{"domain":["W","L","R"],"paddingInner":0.25,"paddingOuter":0.225},"axis":null},
"y":{"field":"v","type":"quantitative","scale":{"domain":[-0.1075,2.2575],"nice":false,"zero":false},"axis":null}}},
{"data":{"name":"sig"},"transform":[{"filter":"datum.p=='e'"}],"mark":{"type":"rule","xOffset":8,"x2Offset":-8,"color":"#000","strokeWidth":1},
"encoding":{"x":{"field":"from","type":"nominal","scale":{"domain":["W","L","R"],"paddingInner":0.25,"paddingOuter":0.225},"axis":null},"x2":{"field":"to"},
"y":{"field":"y","type":"quantitative","scale":{"domain":[-0.1075,2.2575],"nice":false,"zero":false},"axis":null}}},
{"data":{"name":"sig"},"transform":[{"filter":"datum.p=='e'"}],"mark":{"type":"text","text":"*","dx":29,"dy":1,"fontSize":9,"baseline":"alphabetic","color":"#000"},
"encoding":{"x":{"field":"from","type":"nominal","scale":{"domain":["W","L","R"],"paddingInner":0.25,"paddingOuter":0.225},"axis":null},
"y":{"field":"y","type":"quantitative","scale":{"domain":[-0.1075,2.2575],"nice":false,"zero":false},"axis":null}}}
]}
],"spacing":16,"bounds":"flush"}
],"spacing":1},
{"hconcat":[
{"width":3,"height":575,"data":{"values":[{}]},"mark":{"type":"point","opacity":0},"encoding":{},"view":{"fill":"#000","stroke":null}},
{"vconcat":[
{"width":182,"height":12,"data":{"values":[{}]},"mark":{"type":"point","opacity":0},"encoding":{},"view":{"fill":"white","stroke":null}},
{"width":182,"height":257,
"title":{"text":"c","anchor":"start","frame":"group","dx":-25,"dy":26,"offset":0,"fontSize":18,"fontWeight":"bold","color":"#000","baseline":"alphabetic","font":"DejaVu Sans"},
"resolve":{"axis":{"x":"independent","y":"independent"}},
"layer":[
{"data":{"name":"box"},"transform":[{"filter":"datum.p=='c'"}],"mark":{"type":"tick","opacity":0},
"encoding":{"x":{"field":"g","type":"nominal","scale":{"domain":["W","L","R"],"paddingInner":0.25,"paddingOuter":0.225},"axis":{"orient":"top","title":"pvdGEFN","labels":false,"ticks":false,"domain":false,"grid":false,"titleFontStyle":"italic","titleFontWeight":"bold","titleFontSize":11,"titleColor":"#000","titlePadding":4}},
"y":{"field":"md","type":"quantitative","scale":{"domain":[-0.122,2.562],"nice":false,"zero":false},"axis":{"orient":"right","values":[0.25,0.75,1.25,1.75,2.25],"grid":true,"gridColor":"#fff","gridWidth":0.5,"labels":false,"ticks":false,"domain":false,"title":null}}}},
{"data":{"name":"box"},"transform":[{"filter":"datum.p=='c'"}],"mark":{"type":"rule","color":"#333","strokeWidth":1},
"encoding":{"x":{"field":"g","type":"nominal","scale":{"domain":["W","L","R"],"paddingInner":0.25,"paddingOuter":0.225},"axis":{"orient":"bottom","title":null,"labels":false,"grid":true,"gridColor":"#fff","gridWidth":1}},
"y":{"field":"lo","type":"quantitative","scale":{"domain":[-0.122,2.562],"nice":false,"zero":false},"axis":{"orient":"left","values":[0,0.5,1,1.5,2,2.5],"format":".1f","grid":true,"gridColor":"#fff","gridWidth":1,"title":null}},
"y2":{"field":"hi"}}},
{"data":{"name":"box"},"transform":[{"filter":"datum.p=='c'"}],"mark":{"type":"bar","fill":"#fff","stroke":"#333","strokeWidth":1},
"encoding":{"x":{"field":"g","type":"nominal","scale":{"domain":["W","L","R"],"paddingInner":0.25,"paddingOuter":0.225},"axis":null},
"y":{"field":"q1","type":"quantitative","scale":{"domain":[-0.122,2.562],"nice":false,"zero":false},"axis":null},"y2":{"field":"q3"}}},
{"data":{"name":"box"},"transform":[{"filter":"datum.p=='c'"}],"mark":{"type":"tick","orient":"horizontal","size":43,"thickness":2,"color":"#000","opacity":1},
"encoding":{"x":{"field":"g","type":"nominal","scale":{"domain":["W","L","R"],"paddingInner":0.25,"paddingOuter":0.225},"axis":null},
"y":{"field":"md","type":"quantitative","scale":{"domain":[-0.122,2.562],"nice":false,"zero":false},"axis":null}}},
{"data":{"name":"pts"},"transform":[{"filter":"datum.p=='c'"}],"mark":{"type":"circle","size":32,"opacity":1,"color":"#0057A6"},
"encoding":{"x":{"field":"g","type":"nominal","scale":{"domain":["W","L","R"],"paddingInner":0.25,"paddingOuter":0.225},"axis":null},
"y":{"field":"v","type":"quantitative","scale":{"domain":[-0.122,2.562],"nice":false,"zero":false},"axis":null}}},
{"data":{"name":"sig"},"transform":[{"filter":"datum.p=='c'"}],"mark":{"type":"rule","xOffset":8,"x2Offset":-8,"color":"#000","strokeWidth":1},
"encoding":{"x":{"field":"from","type":"nominal","scale":{"domain":["W","L","R"],"paddingInner":0.25,"paddingOuter":0.225},"axis":null},"x2":{"field":"to"},
"y":{"field":"y","type":"quantitative","scale":{"domain":[-0.122,2.562],"nice":false,"zero":false},"axis":null}}},
{"data":{"name":"sig"},"transform":[{"filter":"datum.p=='c' && datum.to=='L'"}],"mark":{"type":"text","text":"*","dx":29,"dy":1,"fontSize":9,"baseline":"alphabetic","color":"#000"},
"encoding":{"x":{"field":"from","type":"nominal","scale":{"domain":["W","L","R"],"paddingInner":0.25,"paddingOuter":0.225},"axis":null},
"y":{"field":"y","type":"quantitative","scale":{"domain":[-0.122,2.562],"nice":false,"zero":false},"axis":null}}},
{"data":{"name":"sig"},"transform":[{"filter":"datum.p=='c' && datum.to=='R'"}],"mark":{"type":"text","text":"*","dx":0,"dy":1,"fontSize":9,"baseline":"alphabetic","color":"#000"},
"encoding":{"x":{"datum":"L","type":"nominal","scale":{"domain":["W","L","R"],"paddingInner":0.25,"paddingOuter":0.225},"axis":null},
"y":{"field":"y","type":"quantitative","scale":{"domain":[-0.122,2.562],"nice":false,"zero":false},"axis":null}}}
]},
{"width":182,"height":256,
"title":{"text":"f","anchor":"start","frame":"group","dx":-23,"dy":15,"offset":0,"fontSize":18,"fontWeight":"bold","color":"#000","baseline":"alphabetic","font":"DejaVu Sans"},
"resolve":{"axis":{"x":"independent","y":"independent"}},
"layer":[
{"data":{"name":"box"},"transform":[{"filter":"datum.p=='f'"}],"mark":{"type":"tick","opacity":0},
"encoding":{"x":{"field":"g","type":"nominal","scale":{"domain":["W","L","R"],"paddingInner":0.25,"paddingOuter":0.225},"axis":null},
"y":{"field":"md","type":"quantitative","scale":{"domain":[-0.145,3.045],"nice":false,"zero":false},"axis":{"orient":"right","values":[0.5,1.5,2.5],"grid":true,"gridColor":"#fff","gridWidth":0.5,"labels":false,"ticks":false,"domain":false,"title":null}}}},
{"data":{"name":"box"},"transform":[{"filter":"datum.p=='f'"}],"mark":{"type":"rule","color":"#333","strokeWidth":1},
"encoding":{"x":{"field":"g","type":"nominal","scale":{"domain":["W","L","R"],"paddingInner":0.25,"paddingOuter":0.225},"axis":{"orient":"bottom","title":null,"grid":true,"gridColor":"#fff","gridWidth":1,"labelAngle":0,"labelPadding":1,"labelExpr":"datum.value=='W'?'WT':datum.value=='L'?'lasR*':'lasR**/rhlR*'","labelFontWeight":"bold","labelFontSize":10.5,"labelFontStyle":{"condition":{"test":"datum.value=='W'","value":"normal"},"value":"italic"}}},
"y":{"field":"lo","type":"quantitative","scale":{"domain":[-0.145,3.045],"nice":false,"zero":false},"axis":{"orient":"left","values":[0,1,2,3],"format":"d","grid":true,"gridColor":"#fff","gridWidth":1,"title":null}},
"y2":{"field":"hi"}}},
{"data":{"name":"box"},"transform":[{"filter":"datum.p=='f'"}],"mark":{"type":"bar","fill":"#fff","stroke":"#333","strokeWidth":1},
"encoding":{"x":{"field":"g","type":"nominal","scale":{"domain":["W","L","R"],"paddingInner":0.25,"paddingOuter":0.225},"axis":null},
"y":{"field":"q1","type":"quantitative","scale":{"domain":[-0.145,3.045],"nice":false,"zero":false},"axis":null},"y2":{"field":"q3"}}},
{"data":{"name":"box"},"transform":[{"filter":"datum.p=='f'"}],"mark":{"type":"tick","orient":"horizontal","size":43,"thickness":2,"color":"#000","opacity":1},
"encoding":{"x":{"field":"g","type":"nominal","scale":{"domain":["W","L","R"],"paddingInner":0.25,"paddingOuter":0.225},"axis":null},
"y":{"field":"md","type":"quantitative","scale":{"domain":[-0.145,3.045],"nice":false,"zero":false},"axis":null}}},
{"data":{"name":"pts"},"transform":[{"filter":"datum.p=='f'"}],"mark":{"type":"circle","size":32,"opacity":1,"color":"#0057A6"},
"encoding":{"x":{"field":"g","type":"nominal","scale":{"domain":["W","L","R"],"paddingInner":0.25,"paddingOuter":0.225},"axis":null},
"y":{"field":"v","type":"quantitative","scale":{"domain":[-0.145,3.045],"nice":false,"zero":false},"axis":null}}}
]}
],"spacing":16,"bounds":"flush"}
],"spacing":1}
]
}
